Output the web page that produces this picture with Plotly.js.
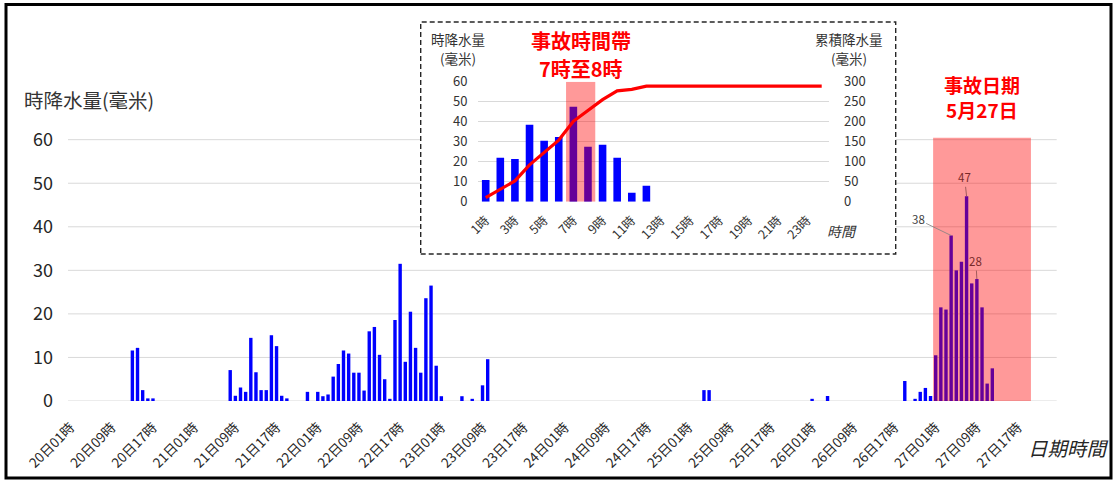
<!DOCTYPE html>
<html><head><meta charset="utf-8">
<script src="https://cdn.plot.ly/plotly-3.0.1.min.js"></script>
<style>html,body{margin:0;padding:0;background:#fff;}#chart{width:1116px;height:481px;}</style>
</head><body><div id="chart"></div>
<script>
// ---- data ----
const days = [20, 21, 22, 23, 24, 25, 26, 27];
const hours = [1,2,3,4,5,6,7,8,9,10,11,12,13,14,15,16,17,18,19,20,21,22,23,24];
const rain20 = [0,0,0,0,0,0,0,0,0,0,0,0,11.6,12.2,2.5,0.6,0.6,0,0,0,0,0,0,0];
const rain21 = [0,0,0,0,0,0,0,7.1,1.2,3.1,2.1,14.5,6.6,2.5,2.5,15.1,12.6,1.2,0.6,0,0,0,2.1,0];
const rain22 = [2.1,1.1,1.5,5.6,8.5,11.6,10.9,6.5,6.5,2.4,16.0,17.0,10.6,5.0,0.5,18.6,31.5,9.0,20.5,12.2,6.5,23.6,26.5,8.1];
const rain23 = [1.1,0,0,0,1.1,0,0.5,0,3.6,9.6,0,0,0,0,0,0,0,0,0,0,0,0,0,0];
const rain24 = [0,0,0,0,0,0,0,0,0,0,0,0,0,0,0,0,0,0,0,0,0,0,0,0];
const rain25 = [0,0,0,2.5,2.5,0,0,0,0,0,0,0,0,0,0,0,0,0,0,0,0,0,0,0];
const rain26 = [0.5,0,0,1.15,0,0,0,0,0,0,0,0,0,0,0,0,0,0,4.6,0,0.5,2.1,3.0,1.15];
const rain27 = [10.5,21.5,21,38,30,32,47,27,28,21.5,4,7.5,0,0,0,0,0,0,0,0,0,0,0,0];
const mainTickLabels = ["20日01時","20日09時","20日17時","21日01時","21日09時","21日17時",
  "22日01時","22日09時","22日17時","23日01時","23日09時","23日17時",
  "24日01時","24日09時","24日17時","25日01時","25日09時","25日17時",
  "26日01時","26日09時","26日17時","27日01時","27日09時","27日17時"];
const mainYTicks = [0,10,20,30,40,50,60];
const labelCats = ["27日04時","27日07時","27日09時"];
const labelVals = [38, 47, 28];

const insetHours = ["1時","2時","3時","4時","5時","6時","7時","8時","9時","10時","11時","12時",
  "13時","14時","15時","16時","17時","18時","19時","20時","21時","22時","23時","24時"];
const insetTickLabels = ["1時","3時","5時","7時","9時","11時","13時","15時","17時","19時","21時","23時"];
const insetRain = [10.8,22,21.3,38.5,30.5,32.3,47.5,27.5,28.5,22,4.5,8,0,0,0,0,0,0,0,0,0,0,0,0];
const insetCum = [10,32,52,92,122,154,201,227,255,277,281,289,289,289,289,289,289,289,289,289,289,289,289,289];
const insetYTicks = [0,10,20,30,40,50,60];
const insetY2Ticks = [0,50,100,150,200,250,300];

// ---- build ----
const W = 1116, H = 481;
const px = x => x / W;
const py = y => 1 - y / H;
const FONT = '"Noto Sans CJK TC", "Noto Sans", sans-serif';

const cats = [];
days.forEach(d => hours.forEach(h => cats.push(d + '日' + String(h).padStart(2, '0') + '時')));
const rain = [].concat(rain20, rain21, rain22, rain23, rain24, rain25, rain26, rain27);

const traces = [
  {type:'bar', x:cats, y:rain, xaxis:'x', yaxis:'y', width:0.66,
   marker:{color:'#0000FF', line:{width:0}}, hoverinfo:'skip'},
  {type:'bar', x:insetHours, y:insetRain, xaxis:'x2', yaxis:'y2', width:0.52,
   marker:{color:'#0000FF', line:{width:0}}, hoverinfo:'skip'},
  {type:'scatter', mode:'lines', x:insetHours, y:insetCum, xaxis:'x2', yaxis:'y3',
   line:{color:'#FF0000', width:3.2}, hoverinfo:'skip'}
];

const shapes = [];
mainYTicks.forEach(v => shapes.push({type:'line', xref:'paper', yref:'y', x0:px(68), x1:px(1056.7), y0:v, y1:v,
  line:{color:'#d9d9d9', width:1}, layer:'below'}));
shapes.push({type:'rect', xref:'paper', yref:'paper', x0:px(420.7), x1:px(895.7), y0:py(254), y1:py(22),
  fillcolor:'#ffffff', line:{color:'#262626', width:1.4, dash:'5px,3px'}, layer:'below'});
shapes.push({type:'rect', xref:'x', yref:'y', x0:167.5, x1:186.5, y0:0, y1:60.5,
  fillcolor:'rgba(255,0,0,0.4)', line:{width:0}, layer:'above'});
shapes.push({type:'rect', xref:'x2', yref:'y2', x0:5.5, x1:7.5, y0:0, y1:60,
  fillcolor:'rgba(255,0,0,0.4)', line:{width:0}, layer:'above'});
shapes.push({type:'rect', xref:'paper', yref:'paper', x0:px(6), x1:px(1111), y0:py(478), y1:py(4.5),
  fillcolor:'rgba(0,0,0,0)', line:{color:'#000000', width:3}, layer:'above'});

function txt(text, x, y, size, color, opts) {
  return Object.assign({xref:'paper', yref:'paper', x:px(x), y:py(y), text:text, showarrow:false,
    xanchor:'center', yanchor:'middle', font:{family:FONT, size:size, color:color}}, opts || {});
}
const annotations = [
  txt('時降水量(毫米)', 22, 99, 19.5, '#333333', {xanchor:'left'}),
  txt('<b>事故日期</b>', 982, 84, 19, '#FF0000'),
  txt('<b>5月27日</b>', 982, 109.5, 19, '#FF0000'),
  txt('<b>事故時間帶</b>', 581, 41, 20, '#FF0000'),
  txt('<b>7時至8時</b>', 581, 68, 20, '#FF0000'),
  txt('時降水量', 458, 39.3, 13.5, '#333333'),
  txt('(毫米)', 458, 57.7, 13.5, '#333333'),
  txt('累積降水量', 849, 39.3, 13.5, '#333333'),
  txt('(毫米)', 849, 57.7, 13.5, '#333333'),
  txt('<i>時間</i>', 842, 231, 14, '#333333'),
  txt('<i>日期時間</i>', 1068, 447, 19.5, '#262626')
];
const labelOffsets = [[-33,-16],[-2,-19],[-1,-18]];
const labelColors = ['#404040','#7a2a2a','#7a2a2a'];
labelCats.forEach((c, i) => annotations.push({xref:'x', yref:'y', x:c, y:labelVals[i], text:String(labelVals[i]),
  showarrow:true, arrowhead:0, arrowwidth:0.8, arrowcolor: i === 0 ? '#808080' : '#8a4a4a',
  ax:labelOffsets[i][0], ay:labelOffsets[i][1], standoff:0,
  font:{family:FONT, size:11.5, color:labelColors[i]}}));

const layout = {
  width:W, height:H, margin:{l:0, r:0, t:0, b:0}, paper_bgcolor:'#ffffff', plot_bgcolor:'#ffffff',
  showlegend:false, font:{family:FONT, color:'#262626'},
  xaxis:{domain:[px(68), px(1056.7)], anchor:'y', type:'category', range:[-0.5, 191.5],
    tickmode:'array', tickvals:mainTickLabels, ticktext:mainTickLabels, tickangle:-45,
    tickfont:{family:FONT, size:13.5, color:'#262626'}, showgrid:false, zeroline:false, showline:false,
    ticks:'', ticklabelstandoff:15, fixedrange:true},
  yaxis:{domain:[py(401), py(137.5)], anchor:'x', range:[0, 60.5], tickmode:'array', tickvals:mainYTicks,
    showgrid:false, zeroline:false, showline:false, ticks:'', ticklabelstandoff:14,
    tickfont:{family:FONT, size:18, color:'#262626'}, fixedrange:true},
  xaxis2:{domain:[px(478.4), px(829)], anchor:'y2', type:'category', range:[-0.5, 23.5],
    tickmode:'array', tickvals:insetTickLabels, ticktext:insetTickLabels, tickangle:-45,
    tickfont:{family:FONT, size:12.5, color:'#333333'}, showgrid:false, zeroline:false, showline:false,
    ticks:'', ticklabelstandoff:8, fixedrange:true},
  yaxis2:{domain:[py(201.7), py(81.7)], anchor:'x2', range:[0, 60], tickmode:'array', tickvals:insetYTicks,
    showgrid:true, gridcolor:'#d9d9d9', gridwidth:1, zeroline:false, showline:false, ticks:'',
    ticklabelstandoff:10, tickfont:{family:FONT, size:13, color:'#333333'}, fixedrange:true},
  yaxis3:{overlaying:'y2', anchor:'x2', side:'right', range:[0, 300], tickmode:'array', tickvals:insetY2Ticks,
    showgrid:false, zeroline:false, showline:false, ticks:'', ticklabelstandoff:14,
    tickfont:{family:FONT, size:13, color:'#333333'}, fixedrange:true},
  shapes:shapes, annotations:annotations
};
Plotly.newPlot('chart', traces, layout, {staticPlot:true, displayModeBar:false});
</script></body></html>
